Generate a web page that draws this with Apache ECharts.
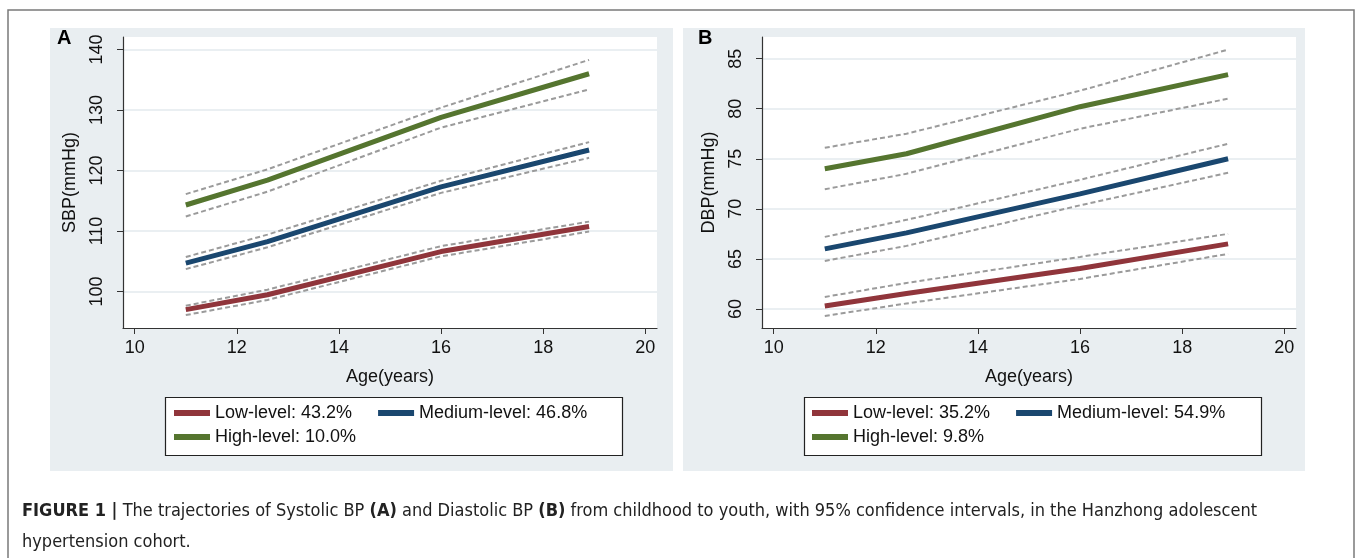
<!DOCTYPE html>
<html><head><meta charset="utf-8">
<script src="https://cdn.jsdelivr.net/npm/echarts@6/dist/echarts.min.js"></script>
<style>html,body{margin:0;padding:0;background:#fff}#c{width:1357px;height:558px}</style>
</head><body><div id="c"></div>
<script>
// ---- data ----
const ages = [11, 12.6, 16, 18.9];
const sbpLow = [97.0, 99.45, 106.6, 110.75];
const sbpLowUp = [97.65, 100.3, 107.5, 111.55];
const sbpLowLo = [96.1, 98.6, 105.8, 109.9];
const sbpMed = [104.7, 108.25, 117.3, 123.4];
const sbpMedUp = [105.7, 109.4, 118.3, 124.7];
const sbpMedLo = [103.7, 107.3, 116.3, 122.1];
const sbpHigh = [114.3, 118.4, 128.8, 136.0];
const sbpHighUp = [116.1, 120.2, 130.4, 138.3];
const sbpHighLo = [112.4, 116.5, 127.1, 133.4];
const dbpLow = [60.3, 61.55, 64.05, 66.5];
const dbpLowUp = [61.2, 62.6, 65.2, 67.5];
const dbpLowLo = [59.3, 60.55, 63.0, 65.5];
const dbpMed = [66.0, 67.6, 71.5, 75.0];
const dbpMedUp = [67.2, 68.9, 72.9, 76.5];
const dbpMedLo = [64.8, 66.3, 70.35, 73.6];
const dbpHigh = [74.0, 75.5, 80.2, 83.4];
const dbpHighUp = [76.1, 77.5, 81.8, 85.9];
const dbpHighLo = [71.95, 73.5, 78.0, 81.0];
const xTicks = [10, 12, 14, 16, 18, 20];
const sbpTicks = [100, 110, 120, 130, 140];
const dbpTicks = [60, 65, 70, 75, 80, 85];
const legendA = ['Low-level: 43.2%', 'Medium-level: 46.8%', 'High-level: 10.0%'];
const legendB = ['Low-level: 35.2%', 'Medium-level: 54.9%', 'High-level: 9.8%'];
const xTitle = 'Age(years)';
const yTitleA = 'SBP(mmHg)';
const yTitleB = 'DBP(mmHg)';

// ---- styling ----
const COLORS = ['#90353b', '#1a476f', '#55752f'];
const CI_COLOR = '#9b9b9b';
const FONT = '"Liberation Sans", Arial, sans-serif';
const CAP_FONT = '"DejaVu Sans Condensed", "Liberation Sans Narrow", sans-serif';
const pairs = (ys) => ages.map((a, i) => [a, ys[i]]);

function mainLine(name, ys, idx, color) {
  return { name, type: 'line', xAxisIndex: idx, yAxisIndex: idx, data: pairs(ys), symbol: 'none',
    lineStyle: { width: 5, color }, itemStyle: { color }, z: 3, silent: true };
}
function ciLine(ys, idx) {
  return { name: '_ci', type: 'line', xAxisIndex: idx, yAxisIndex: idx, data: pairs(ys), symbol: 'none',
    lineStyle: { width: 2, color: CI_COLOR, type: [5, 3] }, itemStyle: { color: CI_COLOR }, z: 4, silent: true };
}
function xAxis(idx) {
  return { type: 'value', gridIndex: idx, min: 9.77, max: 20.23,
    name: xTitle, nameLocation: 'middle', nameGap: 40,
    nameTextStyle: { fontSize: 18, color: '#111', fontFamily: FONT },
    axisLine: { show: true, lineStyle: { color: '#333', width: 1.2 } },
    axisTick: { show: true, length: 6, customValues: xTicks, lineStyle: { color: '#333' } },
    axisLabel: { customValues: xTicks, fontSize: 18, color: '#111', margin: 11, fontFamily: FONT },
    splitLine: { show: false } };
}
function yAxis(idx, min, max, ticks, title) {
  return { type: 'value', gridIndex: idx, min, max,
    name: title, nameLocation: 'middle', nameGap: 44, nameRotate: 90,
    nameTextStyle: { fontSize: 18, color: '#111', fontFamily: FONT },
    axisLine: { show: true, lineStyle: { color: '#333', width: 1.2 } },
    axisTick: { show: true, length: 6, customValues: ticks, lineStyle: { color: '#333' } },
    axisLabel: { customValues: ticks, rotate: 90, fontSize: 18, color: '#111', margin: 17, fontFamily: FONT },
    splitLine: { show: true, lineStyle: { color: '#e3eaee', width: 1.5 } } };
}
function legendRow(names, left, top) {
  return { data: names, left, top, orient: 'horizontal', itemGap: 26, padding: 0,
    icon: 'rect', itemWidth: 36, itemHeight: 6, selectedMode: false,
    textStyle: { fontSize: 18, color: '#111', fontFamily: FONT, lineHeight: 20 } };
}

const chart = echarts.init(document.getElementById('c'), null, { renderer: 'canvas' });
chart.setOption({
  animation: false,
  backgroundColor: '#fff',
  grid: [
    { left: 123, top: 37, width: 534, height: 291, show: true, backgroundColor: '#fff', borderWidth: 0 },
    { left: 762, top: 37, width: 534, height: 291, show: true, backgroundColor: '#fff', borderWidth: 0 }
  ],
  xAxis: [xAxis(0), xAxis(1)],
  yAxis: [yAxis(0, 93.96, 142.08, sbpTicks, yTitleA), yAxis(1, 58.1, 87.16, dbpTicks, yTitleB)],
  legend: [
    legendRow([legendA[0], legendA[1]], 174, 403),
    legendRow([legendA[2]], 174, 427),
    legendRow([legendB[0], legendB[1]], 812, 403),
    legendRow([legendB[2]], 812, 427)
  ],
  series: [
    mainLine(legendA[0], sbpLow, 0, COLORS[0]), mainLine(legendA[1], sbpMed, 0, COLORS[1]), mainLine(legendA[2], sbpHigh, 0, COLORS[2]),
    ciLine(sbpLowUp, 0), ciLine(sbpLowLo, 0), ciLine(sbpMedUp, 0), ciLine(sbpMedLo, 0), ciLine(sbpHighUp, 0), ciLine(sbpHighLo, 0),
    mainLine(legendB[0], dbpLow, 1, COLORS[0]), mainLine(legendB[1], dbpMed, 1, COLORS[1]), mainLine(legendB[2], dbpHigh, 1, COLORS[2]),
    ciLine(dbpLowUp, 1), ciLine(dbpLowLo, 1), ciLine(dbpMedUp, 1), ciLine(dbpMedLo, 1), ciLine(dbpHighUp, 1), ciLine(dbpHighLo, 1)
  ],
  graphic: { elements: [
    { type: 'rect', z: -20, shape: { x: 8, y: 10, width: 1346, height: 570 }, style: { fill: '#fff', stroke: '#7a7a7a', lineWidth: 1.5 } },
    { type: 'rect', z: -10, shape: { x: 50, y: 28, width: 623, height: 443 }, style: { fill: '#e9eef1' } },
    { type: 'rect', z: -10, shape: { x: 683, y: 28, width: 622, height: 443 }, style: { fill: '#e9eef1' } },
    { type: 'rect', z: -5, shape: { x: 165.5, y: 397.5, width: 457, height: 58 }, style: { fill: '#fff', stroke: '#222', lineWidth: 1.2 } },
    { type: 'rect', z: -5, shape: { x: 804.5, y: 397.5, width: 457, height: 58 }, style: { fill: '#fff', stroke: '#222', lineWidth: 1.2 } },
    { type: 'text', x: 57, y: 28, style: { text: 'A', font: 'bold 20px ' + FONT, fill: '#000' } },
    { type: 'text', x: 698, y: 28, style: { text: 'B', font: 'bold 20px ' + FONT, fill: '#000' } },
    { type: 'text', x: 22, y: 502, style: {
        text: '{b|FIGURE 1 |} The trajectories of Systolic BP {b|(A)} and Diastolic BP {b|(B)} from childhood to youth, with 95% confidence intervals, in the Hanzhong adolescent',
        font: '18px ' + CAP_FONT, fill: '#222',
        rich: { b: { fontWeight: 'bold', fontSize: 18, fontFamily: CAP_FONT, fill: '#222' } } } },
    { type: 'text', x: 22, y: 533, style: { text: 'hypertension cohort.', font: '18px ' + CAP_FONT, fill: '#222' } }
  ] }
});
</script>
</body></html>
